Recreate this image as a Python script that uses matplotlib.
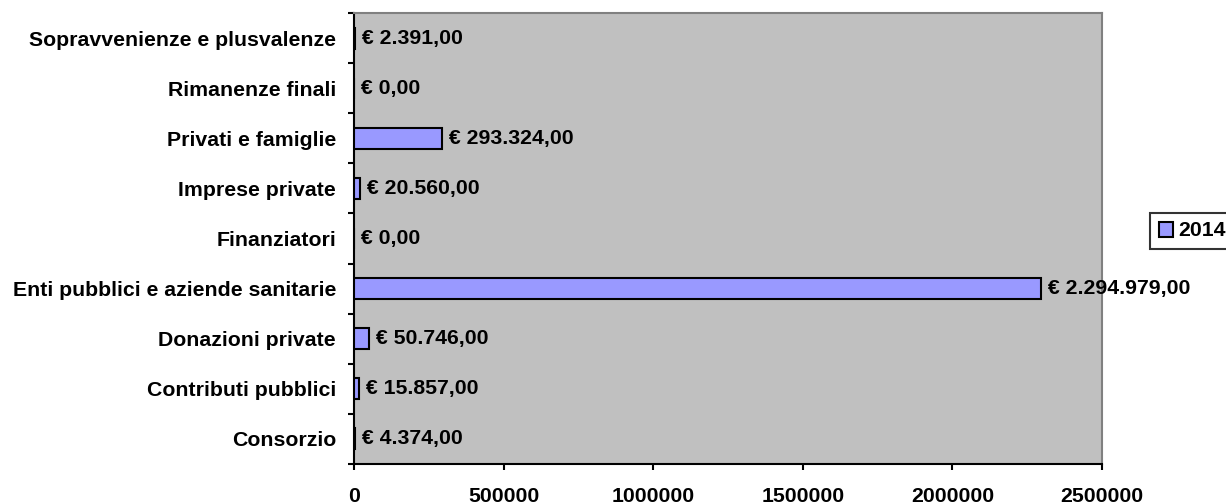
import matplotlib
matplotlib.use("Agg")
import matplotlib.pyplot as plt
from matplotlib.ticker import FixedLocator

categories = ["Consorzio", "Contributi pubblici", "Donazioni private",
              "Enti pubblici e aziende sanitarie", "Finanziatori",
              "Imprese private", "Privati e famiglie", "Rimanenze finali",
              "Sopravvenienze e plusvalenze"]
values = [4374.00, 15857.00, 50746.00, 2294979.00, 0.00, 20560.00,
          293324.00, 0.00, 2391.00]
labels = ["€ 4.374,00", "€ 15.857,00", "€ 50.746,00", "€ 2.294.979,00",
          "€ 0,00", "€ 20.560,00", "€ 293.324,00", "€ 0,00", "€ 2.391,00"]
xticks = [0, 500000, 1000000, 1500000, 2000000, 2500000]
series_name = "2014"

plt.rcParams['font.family'] = ['Liberation Sans', 'DejaVu Sans']
plt.rcParams['font.weight'] = 'bold'

FS = 15.3
W, H = 1226, 504
fig = plt.figure(figsize=(W / 100, H / 100), dpi=100)
ax = fig.add_axes([354 / W, 1 - 464 / H, (1102 - 354) / W, (464 - 13) / H])
ax.set_facecolor('#C0C0C0')

y = list(range(len(categories)))
bars = ax.barh(y, values, height=0.42, color='#9999FF', edgecolor='black',
               linewidth=1.5, label=series_name, zorder=3)
for yi, v, lab in zip(y, values, labels):
    ax.annotate(lab, xy=(v, yi), xytext=(5, 0), textcoords='offset points',
                va='center', ha='left', fontsize=FS, fontweight='bold',
                clip_on=False, zorder=5)

ax.set_xlim(0, 2500000)
ax.set_ylim(-0.5, len(categories) - 0.5)
ax.set_xticks(xticks)
ax.set_xticklabels([str(t) for t in xticks], fontsize=FS, fontweight='bold')
ax.set_yticks(y)
ax.set_yticklabels(categories, fontsize=FS, fontweight='bold')
ax.tick_params(axis='y', which='major', length=0, pad=13)
ax.yaxis.set_minor_locator(FixedLocator([i - 0.5 for i in range(len(categories) + 1)]))
ax.tick_params(axis='y', which='minor', length=4.5, width=1.5, color='black')
ax.tick_params(axis='x', length=4.5, width=1.5, color='black', pad=12)

for s in ['left', 'bottom']:
    ax.spines[s].set_color('black')
    ax.spines[s].set_linewidth(1.5)
for s in ['right', 'top']:
    ax.spines[s].set_color('#808080')
    ax.spines[s].set_linewidth(1.5)

leg = fig.legend(handles=[bars], labels=[series_name], loc='upper left',
                 bbox_to_anchor=(1150 / W, 1 - 213 / H), frameon=True,
                 fancybox=False, edgecolor='black', prop={'weight': 'bold', 'size': FS},
                 handlelength=0.7, handleheight=0.7, handletextpad=0.25,
                 borderpad=0.4, borderaxespad=0)
leg.get_frame().set_linewidth(1.5)

fig.savefig('out.png', dpi=100)
